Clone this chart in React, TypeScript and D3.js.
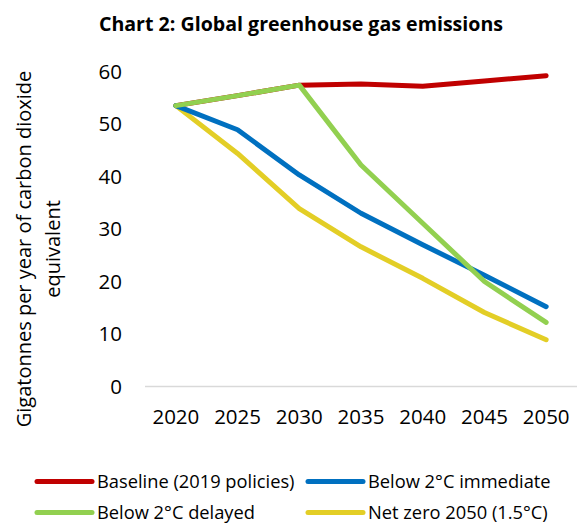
import React from "react";
import * as d3 from "d3";

const years = ["2020", "2025", "2030", "2035", "2040", "2045", "2050"];
const baseline = [53.5, 55.4, 57.4, 57.6, 57.2, 58.2, 59.2];
const below2Immediate = [53.5, 48.9, 40.3, 33.0, 27.0, 21.2, 15.2];
const below2Delayed = [53.5, 55.4, 57.4, 42.2, 31.1, 20.0, 12.2];
const netZero = [53.5, 44.4, 33.9, 26.6, 20.6, 14.1, 8.9];
const yTicks = [0, 10, 20, 30, 40, 50, 60];

const series = [
  { name: "Baseline (2019 policies)", values: baseline, color: "#C00000" },
  { name: "Below 2°C immediate", values: below2Immediate, color: "#0070C0" },
  { name: "Below 2°C delayed", values: below2Delayed, color: "#92D050" },
  { name: "Net zero 2050 (1.5°C)", values: netZero, color: "#E3CE26" },
];

const FONT = "'Open Sans', 'Liberation Sans', sans-serif";

export default function App() {
  const W = 584, H = 525;
  const x = d3.scalePoint<string>().domain(years).range([145, 577]).padding(0.5);
  const y = d3.scaleLinear().domain([0, 60]).range([386.5, 71.5]);
  const line = d3.line<number>().x((_, i) => x(years[i])!).y((d) => y(d));
  // draw order: red, yellow, blue, green
  const drawOrder = [0, 3, 1, 2];
  const legendPos = [
    { lx: 37, ly: 481.5 },
    { lx: 308, ly: 481.5 },
    { lx: 37, ly: 512.5 },
    { lx: 308, ly: 512.5 },
  ];
  return (
    <svg width={W} height={H} style={{ position: "absolute", left: 0, top: 0, background: "#fff" }} fontFamily={FONT}>
      <text x={301} y={31} textAnchor="middle" fontSize={19.6} fontWeight="bold" fill="#000">
        Chart 2: Global greenhouse gas emissions
      </text>
      <g transform="translate(0,249) rotate(-90)">
        <text x={0} y={24} textAnchor="middle" fontSize={20} fill="#000" dy="0.35em">
          Gigatonnes per year of carbon dioxide
        </text>
        <text x={0} y={53} textAnchor="middle" fontSize={20} fill="#000" dy="0.35em">
          equivalent
        </text>
      </g>
      {yTicks.map((t) => (
        <text key={t} x={122} y={y(t)} textAnchor="end" dy="0.35em" fontSize={20.5} fill="#000">
          {t}
        </text>
      ))}
      <line x1={145} x2={577} y1={y(0)} y2={y(0)} stroke="#D9D9D9" strokeWidth={1.5} />
      {years.map((yr) => (
        <text key={yr} x={x(yr)} y={417} textAnchor="middle" dy="0.35em" fontSize={20.5} fill="#000">
          {yr}
        </text>
      ))}
      {drawOrder.map((i) => (
        <path
          key={series[i].name}
          d={line(series[i].values) || ""}
          fill="none"
          stroke={series[i].color}
          strokeWidth={5}
          strokeLinecap="round"
          strokeLinejoin="round"
        />
      ))}
      {series.map((s, i) => (
        <g key={s.name}>
          <line
            x1={legendPos[i].lx}
            x2={legendPos[i].lx + 55}
            y1={legendPos[i].ly}
            y2={legendPos[i].ly}
            stroke={s.color}
            strokeWidth={5}
            strokeLinecap="round"
          />
          <text x={legendPos[i].lx + 60} y={legendPos[i].ly} dy="0.35em" fontSize={18.3} fill="#000">
            {s.name}
          </text>
        </g>
      ))}
    </svg>
  );
}
